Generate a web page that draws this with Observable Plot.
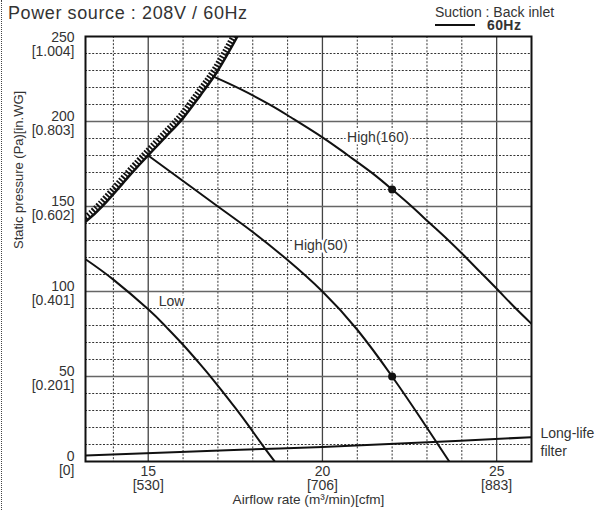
<!DOCTYPE html>
<html>
<head>
<meta charset="utf-8">
<script src="https://cdn.jsdelivr.net/npm/d3@7"></script>
<script src="https://cdn.jsdelivr.net/npm/@observablehq/plot@0.6"></script>
<style>
  html, body { margin: 0; padding: 0; background: #fff; }
  #wrap { position: relative; width: 596px; height: 510px; font-family: "Liberation Sans", Arial, sans-serif; color: #333; }
  #wrap svg { position: absolute; left: 0; top: 0; }
  .ov { position: absolute; white-space: nowrap; }
</style>
</head>
<body>
<div id="wrap">
  <div id="chart"></div>
  <div class="ov" style="left:1px;top:0;height:510px;border-left:1px dotted #444;"></div>
  <div class="ov" style="left:8px;top:3px;font-size:18px;line-height:20px;letter-spacing:0.6px;">Power source : 208V / 60Hz</div>
  <div class="ov" style="left:435px;top:5px;font-size:14px;line-height:14px;">Suction : Back inlet</div>
  <div class="ov" style="left:435px;top:24px;width:40px;height:2px;background:#111;"></div>
  <div class="ov" style="left:487px;top:18.5px;font-size:14px;line-height:12px;font-weight:bold;letter-spacing:0.4px;">60Hz</div>
</div>
<script>
// ---- axis ticks ----
const yTicks = [0, 50, 100, 150, 200, 250];
const yTicksInWG = ["0", "0.201", "0.401", "0.602", "0.803", "1.004"];
const xTicks = [15, 20, 25];
const xTicksCfm = ["530", "706", "883"];
const xDomain = [13.2, 26];
const yDomain = [0, 250];

// ---- curves (airflow m3/min, static pressure Pa) ----
const limitX = [13.2, 13.7, 14.5, 15.02, 15.5, 16.0, 16.5, 17.0, 17.56];
const limitY = [141, 150.5, 169, 180.5, 191, 202, 215.5, 230, 250];

const high160X = [16.86, 17.65, 18.5, 19.09, 20.0, 20.72, 21.44, 22.0, 22.54, 23.06, 23.59, 24.07, 24.55, 25.03, 25.5, 26.0];
const high160Y = [226.5, 219, 209.8, 202.5, 190.7, 180.3, 169.5, 160, 150.4, 140.6, 130.6, 121, 111, 101, 91, 81];

const high50X = [15.0, 16.0, 17.0, 18.0, 19.0, 20.0, 21.0, 22.0, 22.8, 23.64];
const high50Y = [180, 165, 150, 135, 118.5, 100, 77.5, 50, 26, 0];

const lowX = [13.2, 14.0, 15.0, 15.5, 16.0, 16.5, 16.8, 17.1, 17.5, 17.9, 18.3, 18.63];
const lowY = [119, 107, 89.5, 79.5, 68.7, 57, 49.7, 42, 31.5, 20.5, 9, 0];

const filterX = [13.2, 17.65, 20.0, 23.97, 26.0];
const filterY = [3.5, 6.9, 8.6, 12.2, 14.3];

// rated points
const pointX = [22, 22];
const pointY = [160, 50];

// curve labels
const labelText = ["High(160)", "High(50)", "Low"];
const labelX = [21.59, 19.95, 15.67];
const labelY = [190.6, 127, 94];

const filterLabel = "Long-life\nfilter";
const yTitle = "Static pressure (Pa)[in.WG]";
const xTitle = "Airflow rate (m\u00B3/min)[cfm]";

const toPts = (xs, ys) => xs.map((x, i) => ({x, y: ys[i]}));
const limit = toPts(limitX, limitY);
const high160 = toPts(high160X, high160Y);
const high50 = toPts(high50X, high50Y);
const low = toPts(lowX, lowY);
const filter = toPts(filterX, filterY);
const points = toPts(pointX, pointY);
const labels = labelText.map((t, i) => ({t, x: labelX[i], y: labelY[i]}));

const xMinor = d3.range(14, 26).filter(v => v % 5 !== 0);
const yMinor = d3.range(10, 250, 10).filter(v => v % 50 !== 0);
const xMajor = xTicks;
const yMajor = yTicks.filter(v => v > 0 && v < 250);

const curveStyle = {x: "x", y: "y", stroke: "#111", strokeWidth: 2, curve: "natural", clip: true};
const yFmt = v => `${v}\n[${yTicksInWG[yTicks.indexOf(v)]}]`;

const chart = Plot.plot({
  width: 596,
  height: 510,
  marginLeft: 85,
  marginRight: 65,
  marginTop: 36,
  marginBottom: 49,
  x: {domain: xDomain},
  y: {domain: yDomain},
  style: {fontFamily: "'Liberation Sans', Arial, sans-serif", fontSize: "14px", color: "#333", background: "white", overflow: "visible"},
  marks: [
    Plot.ruleX(xMinor, {stroke: "#333", strokeWidth: 1, strokeDasharray: "2,1.6"}),
    Plot.ruleY(yMinor, {stroke: "#333", strokeWidth: 1, strokeDasharray: "2,1.6"}),
    Plot.ruleX(xMajor, {stroke: "#444", strokeWidth: 1.3}),
    Plot.ruleY(yMajor, {stroke: "#666", strokeWidth: 1.6}),
    // limit line with hatching on its upper-left side
    Plot.line(limit, {...curveStyle, strokeWidth: 6.5, strokeDasharray: "1.8,1.6", strokeLinecap: "butt", strokeLinejoin: "miter", dx: -2.7, dy: -1.8}),
    Plot.line(limit, {...curveStyle, strokeWidth: 2.5}),
    Plot.line(high160, curveStyle),
    Plot.line(high50, curveStyle),
    Plot.line(low, curveStyle),
    Plot.line(filter, curveStyle),
    Plot.dot(points, {x: "x", y: "y", r: 4, fill: "#111"}),
    Plot.text(labels, {x: "x", y: "y", text: "t", fontSize: 14, fill: "#333", stroke: "white", strokeWidth: 5}),
    Plot.text([filterLabel], {x: () => xDomain[1], y: () => 11.8, text: d => d, textAnchor: "start", dx: 9, fontSize: 14, lineHeight: 1.3, fill: "#333"}),
    Plot.frame({stroke: "#111", strokeWidth: 2}),
    Plot.axisY(yTicks.slice(0, 5), {tickSize: 0, tickPadding: 11, fontSize: 14, dy: 2, label: null, lineHeight: 1.02, tickFormat: yFmt}),
    Plot.axisY(yTicks.slice(5), {tickSize: 0, tickPadding: 11, fontSize: 14, dy: 8, label: null, lineHeight: 1.02, tickFormat: yFmt}),
    Plot.axisX(xTicks, {tickSize: 0, tickPadding: 4, fontSize: 14, label: null, lineHeight: 1.03,
      tickFormat: v => `${v}\n[${xTicksCfm[xTicks.indexOf(v)]}]`}),
    Plot.text([yTitle], {frameAnchor: "left", rotate: -90, dx: -67, fontSize: 13, fill: "#333"}),
    Plot.text([xTitle], {frameAnchor: "bottom", dy: 42, fontSize: 13.6, fill: "#333"})
  ]
});
document.getElementById("chart").appendChild(chart);
</script>
</body>
</html>
